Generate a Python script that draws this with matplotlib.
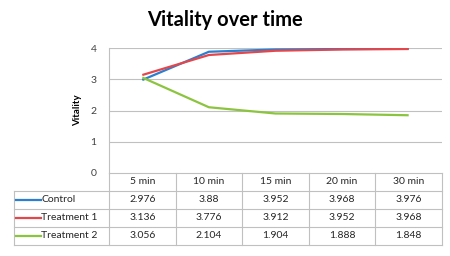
import matplotlib.pyplot as plt

plt.rcParams['font.family'] = ['Lato', 'DejaVu Sans']

# data
times = ['5 min', '10 min', '15 min', '20 min', '30 min']
series = ['Control', 'Treatment 1', 'Treatment 2']
control = [2.976, 3.88, 3.952, 3.968, 3.976]
treat1 = [3.136, 3.776, 3.912, 3.952, 3.968]
treat2 = [3.056, 2.104, 1.904, 1.888, 1.848]
colors = ['#2a7fd0', '#e3474b', '#8cc43f']
values = [control, treat1, treat2]

W, H = 450, 256
fig = plt.figure(figsize=(W / 100, H / 100), dpi=100)
fig.patch.set_facecolor('white')

grid_c = '#c0c0c0'
px0, px1 = 109, 442
py_top, py_zero = 48, 173

ax = fig.add_axes([px0 / W, 1 - py_zero / H, (px1 - px0) / W, (py_zero - py_top) / H])
x = list(range(len(times)))
for vals, c in zip(values, colors):
    ax.plot(x, vals, color=c, lw=1.6, solid_capstyle='butt')
ax.set_xlim(-0.5, len(times) - 0.5)
ax.set_ylim(0, 4)
ax.set_yticks([0, 1, 2, 3, 4])
for yv in [1, 2, 3, 4]:
    ax.axhline(yv, color=grid_c, lw=0.8, zorder=0)
for s in ['top', 'right', 'bottom']:
    ax.spines[s].set_visible(False)
ax.spines['left'].set_color(grid_c)
ax.spines['left'].set_linewidth(0.8)
ax.set_xticks([])
ax.tick_params(axis='y', length=0, pad=9, labelsize=7.5, labelcolor='#404040')
ax.set_ylabel('Vitality', fontsize=7, fontweight='bold', labelpad=6)

fig.text(225 / W, 1 - 20 / H, 'Vitality over time', ha='center', va='center',
         fontsize=14.5, fontweight='bold')

# data table
tx0, ty0, ty1 = 14, 173, 245
col_w = (px1 - px0) / len(times)
lab_w = (px0 - tx0) / col_w
tab = fig.add_axes([tx0 / W, 1 - ty1 / H, (px1 - tx0) / W, (ty1 - ty0) / H])
tab.set_xlim(-0.5 - lab_w, len(times) - 0.5)
tab.set_ylim(len(series) + 1, 0)
tab.axis('off')
xl = -0.5 - lab_w
xr = len(times) - 0.5
nrow = len(series) + 1
# horizontal lines
tab.plot([-0.5, xr], [0, 0], color=grid_c, lw=0.8, clip_on=False)
for r in range(1, nrow + 1):
    tab.plot([xl, xr], [r, r], color=grid_c, lw=0.8, clip_on=False)
# vertical lines
tab.plot([xl, xl], [1, nrow], color=grid_c, lw=0.8, clip_on=False)
for i in range(len(times) + 1):
    tab.plot([i - 0.5, i - 0.5], [0, nrow], color=grid_c, lw=0.8, clip_on=False)
for i, t in enumerate(times):
    tab.text(i, 0.5, t, ha='center', va='center', fontsize=7.5, color='#262626')
for r, (name, vals, c) in enumerate(zip(series, values, colors), start=1):
    tab.plot([xl + 0.03, xl + 0.4], [r + 0.5, r + 0.5], color=c, lw=1.6)
    tab.text(xl + 0.41, r + 0.5, name, ha='left', va='center', fontsize=7.5, color='#262626')
    for i, v in enumerate(vals):
        tab.text(i, r + 0.5, f'{v:g}', ha='center', va='center', fontsize=7.5, color='#262626')

fig.savefig('out.png', dpi=100)
